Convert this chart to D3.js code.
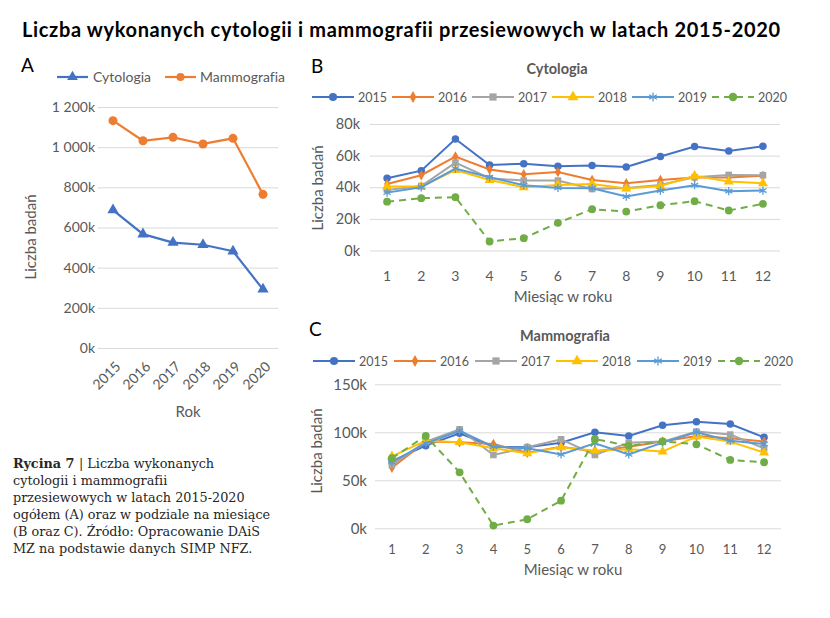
<!DOCTYPE html>
<html>
<head>
<meta charset="utf-8">
<script src="https://cdn.jsdelivr.net/npm/d3@7"></script>
<style>
  body { margin: 0; background: #fff; }
  svg { display: block; }
  text { font-family: Lato, "Open Sans", sans-serif; font-variant-ligatures: none; }
</style>
</head>
<body>
<div id="chart"></div>
<script>
// --- data ---
var years = ["2015", "2016", "2017", "2018", "2019", "2020"];
var totalCyto = [687000, 567000, 525000, 514000, 482000, 292000];
var totalMammo = [1132000, 1032000, 1049000, 1016000, 1044000, 765000];
var totalTicks = [0, 200000, 400000, 600000, 800000, 1000000, 1200000];

var months = ["1", "2", "3", "4", "5", "6", "7", "8", "9", "10", "11", "12"];

// cytologia per month (B)
var cyto2015 = [45700, 50500, 70500, 54100, 54900, 53300, 53700, 52800, 59400, 65700, 62900, 65900];
var cyto2016 = [42100, 47600, 59400, 51200, 48200, 49700, 44600, 42500, 44600, 46100, 46100, 47200];
var cyto2017 = [38300, 40800, 55600, 45700, 44200, 44200, 38900, 39600, 41500, 46300, 47800, 47600];
var cyto2018 = [40400, 40400, 50900, 44600, 40000, 41500, 42100, 39200, 40800, 47200, 43600, 42500];
var cyto2019 = [36600, 40000, 51800, 46300, 41300, 39600, 39400, 34100, 37900, 41300, 37500, 37900];
var cyto2020 = [30900, 33100, 33700, 5700, 7800, 17500, 26100, 24600, 28600, 31200, 25300, 29500];
var cytoTicks = [0, 20000, 40000, 60000, 80000];

// mammografia per month (C)
var mammo2015 = [70000, 86100, 99000, 85000, 84400, 89200, 100000, 96200, 107300, 111100, 108700, 94800];
var mammo2016 = [63000, 90300, 89600, 87800, 78800, 85000, 79900, 85000, 90300, 96200, 93800, 90300];
var mammo2017 = [66000, 90300, 103100, 76400, 84400, 92700, 76400, 89200, 90300, 100700, 97600, 83300];
var mammo2018 = [75000, 91300, 89600, 83300, 78100, 84400, 80900, 82300, 79900, 95500, 90300, 78800];
var mammo2019 = [69000, 88500, 101400, 85000, 83300, 77000, 88500, 77000, 89200, 100000, 91300, 87800];
var mammo2020 = [73000, 96200, 58300, 2800, 9400, 28800, 93000, 85800, 90600, 87500, 71200, 68800];
var mammoTicks = [0, 50000, 100000, 150000];

var seriesColors = ["#4472C4", "#ED7D31", "#A5A5A5", "#FFC000", "#5B9BD5", "#70AD47"];
var seriesSymbols = [d3.symbolCircle, d3.symbolDiamond, d3.symbolSquare, d3.symbolTriangle, d3.symbolAsterisk, d3.symbolCircle];
var seriesSizes = [44, 32, 44, 44, 48, 48];

var captionLines = [
  "| Liczba wykonanych",
  "cytologii i mammografii",
  "przesiewowych w latach 2015-2020",
  "ogółem (A) oraz w podziale na miesiące",
  "(B oraz C). Źródło: Opracowanie DAiS",
  "MZ na podstawie danych SIMP NFZ."
];

var plPL = d3.formatLocale({ decimal: ",", thousands: " ", grouping: [3], currency: ["", " zł"] });
var kFormat = function(d) { return plPL.format(",")(d / 1000) + "k"; };

var grid = "#d9d9d9";
var tickCol = "#595959";

var svg = d3.select("#chart").append("svg")
  .attr("width", 830)
  .attr("height", 618);

// main title
svg.append("text")
  .attr("x", 22)
  .attr("y", 37)
  .attr("textLength", 758)
  .style("font-size", "20px")
  .style("font-weight", "bold")
  .style("fill", "#000")
  .text("Liczba wykonanych cytologii i mammografii przesiewowych w latach 2015-2020");

// ---------------- panel A ----------------
var xA = d3.scaleBand().domain(years).range([98, 278]);
var yA = d3.scaleLinear().domain([0, 1200000]).range([348, 107]);

svg.append("text").attr("x", 21).attr("y", 72)
  .style("font-size", "19px").text("A");

var gyA = svg.append("g")
  .attr("transform", "translate(98,0)")
  .call(d3.axisLeft(yA).tickValues(totalTicks).tickSize(-180).tickPadding(3).tickFormat(kFormat));
gyA.select(".domain").remove();
gyA.selectAll("line").attr("stroke", grid);
gyA.selectAll("text").style("font-size", "14px").style("font-family", "Lato, sans-serif").attr("fill", tickCol);

var gxA = svg.append("g")
  .attr("transform", "translate(0,348)")
  .call(d3.axisBottom(xA).tickSize(0));
gxA.select(".domain").remove();
gxA.selectAll("text")
  .attr("y", 0).attr("dy", "0.35em")
  .attr("text-anchor", "end")
  .attr("transform", "translate(5,16) rotate(-45)")
  .style("font-size", "14px").style("font-family", "Lato, sans-serif").attr("fill", tickCol);

svg.append("text").attr("x", 188).attr("y", 417).attr("text-anchor", "middle")
  .style("font-size", "15px").style("fill", tickCol).text("Rok");
svg.append("text").attr("transform", "translate(36,237) rotate(-90)").attr("text-anchor", "middle")
  .style("font-size", "15px").style("fill", tickCol).text("Liczba badań");

var lineA = d3.line()
  .x(function(d, i) { return xA(years[i]) + xA.bandwidth() / 2; })
  .y(function(d) { return yA(d); });

[[totalMammo, "#ED7D31", d3.symbolCircle, 64], [totalCyto, "#4472C4", d3.symbolTriangle, 55]].forEach(function(s) {
  svg.append("path").attr("d", lineA(s[0])).attr("fill", "none").attr("stroke", s[1]).attr("stroke-width", 2.2);
  svg.selectAll(null).data(s[0]).enter().append("path")
    .attr("d", d3.symbol().type(s[2]).size(s[3]))
    .attr("transform", function(d, i) { return "translate(" + (xA(years[i]) + xA.bandwidth() / 2) + "," + yA(d) + ")"; })
    .attr("fill", s[1]);
});

// legend A
[["Cytologia", "#4472C4", d3.symbolTriangle, 57, 93], ["Mammografia", "#ED7D31", d3.symbolCircle, 165, 200]].forEach(function(l) {
  svg.append("line").attr("x1", l[3]).attr("x2", l[3] + 31).attr("y1", 77).attr("y2", 77)
    .attr("stroke", l[1]).attr("stroke-width", 2.2);
  svg.append("path").attr("d", d3.symbol().type(l[2]).size(50)).attr("fill", l[1])
    .attr("transform", "translate(" + (l[3] + 15.5) + ",77)");
  svg.append("text").attr("x", l[4]).attr("y", 82).style("font-size", "14px").style("fill", tickCol).text(l[0]);
});

// ---------------- panels B, C ----------------
function monthlyPanel(cfg) {
  var x = d3.scaleBand().domain(months).range(cfg.xRange);
  var y = d3.scaleLinear().domain(cfg.yDomain).range(cfg.yRange);
  var cx = function(i) { return x(months[i]) + x.bandwidth() / 2; };

  svg.append("text").attr("x", cfg.labelX).attr("y", cfg.labelY)
    .style("font-size", "19px").text(cfg.label);
  svg.append("text").attr("x", cfg.titleX).attr("y", cfg.titleY).attr("text-anchor", "middle")
    .style("font-size", "14.5px").style("font-weight", "bold").style("fill", tickCol).text(cfg.title);

  var gy = svg.append("g")
    .attr("transform", "translate(" + cfg.xRange[0] + ",0)")
    .call(d3.axisLeft(y).tickValues(cfg.ticks).tickSize(-(cfg.xRange[1] - cfg.xRange[0])).tickPadding(cfg.yPad).tickFormat(kFormat));
  gy.select(".domain").remove();
  gy.selectAll("line").attr("stroke", grid);
  gy.selectAll("text").style("font-size", cfg.yFont).style("font-family", "Lato, sans-serif").attr("fill", tickCol);

  var gx = svg.append("g")
    .attr("transform", "translate(0," + cfg.yRange[0] + ")")
    .call(d3.axisBottom(x).tickSize(0).tickPadding(cfg.xPad));
  gx.select(".domain").remove();
  gx.selectAll("text").style("font-size", cfg.xFont).style("font-family", "Lato, sans-serif").attr("fill", tickCol);

  svg.append("text").attr("x", cfg.xTitleX).attr("y", cfg.xTitleY).attr("text-anchor", "middle")
    .style("font-size", "15px").style("fill", tickCol).text("Miesiąc w roku");
  svg.append("text").attr("transform", "translate(" + cfg.yTitleX + "," + cfg.yTitleY + ") rotate(-90)")
    .attr("text-anchor", "middle")
    .style("font-size", "15px").style("fill", tickCol).text("Liczba badań");

  var line = d3.line().x(function(d, i) { return cx(i); }).y(function(d) { return y(d); });

  cfg.series.forEach(function(vals, k) {
    var col = seriesColors[k];
    var stroke = k === 4;
    svg.append("path").attr("d", line(vals)).attr("fill", "none")
      .attr("stroke", col).attr("stroke-width", 2)
      .attr("stroke-dasharray", k === 5 ? "7,5" : null);
    svg.selectAll(null).data(vals).enter().append("path")
      .attr("d", d3.symbol().type(seriesSymbols[k]).size(seriesSizes[k]))
      .attr("transform", function(d, i) { return "translate(" + cx(i) + "," + y(d) + ")"; })
      .attr("fill", stroke ? "none" : col)
      .attr("stroke", stroke ? col : "none")
      .attr("stroke-width", 1.3);
  });

  // legend
  years.forEach(function(yr, k) {
    var lx = cfg.legendX + k * cfg.legendStep;
    var col = seriesColors[k];
    var stroke = k === 4;
    svg.append("line").attr("x1", lx).attr("x2", lx + 42).attr("y1", cfg.legendY).attr("y2", cfg.legendY)
      .attr("stroke", col).attr("stroke-width", 2)
      .attr("stroke-dasharray", k === 5 ? "7,5" : null);
    svg.append("path").attr("d", d3.symbol().type(seriesSymbols[k]).size(seriesSizes[k] + 8))
      .attr("transform", "translate(" + (lx + 21) + "," + cfg.legendY + ")")
      .attr("fill", stroke ? "none" : col)
      .attr("stroke", stroke ? col : "none")
      .attr("stroke-width", 1.3);
    svg.append("text").attr("x", lx + 46).attr("y", cfg.legendY + 4.5)
      .style("font-size", "12.5px").style("fill", tickCol).text(yr);
  });
}

monthlyPanel({
  label: "B", labelX: 311, labelY: 73,
  title: "Cytologia", titleX: 557, titleY: 74,
  legendX: 312, legendStep: 80, legendY: 97,
  xRange: [370, 780], yDomain: [0, 80000], yRange: [250.5, 124],
  ticks: cytoTicks, yPad: 10, xPad: 21, yFont: "14.5px", xFont: "14px",
  xTitleX: 563, xTitleY: 302, yTitleX: 323, yTitleY: 188,
  series: [cyto2015, cyto2016, cyto2017, cyto2018, cyto2019, cyto2020]
});

monthlyPanel({
  label: "C", labelX: 309, labelY: 336,
  title: "Mammografia", titleX: 565, titleY: 341,
  legendX: 313, legendStep: 81, legendY: 361,
  xRange: [375, 781], yDomain: [0, 150000], yRange: [528.3, 384.3],
  ticks: mammoTicks, yPad: 8, xPad: 16, yFont: "15px", xFont: "13px",
  xTitleX: 573, xTitleY: 575, yTitleX: 322, yTitleY: 451,
  series: [mammo2015, mammo2016, mammo2017, mammo2018, mammo2019, mammo2020]
});

// ---------------- caption ----------------
var cap = svg.append("g").style("fill", "#262626");
captionLines.forEach(function(t, i) {
  var tx = cap.append("text").attr("x", 13).attr("y", 468 + i * 17)
    .style("font-family", "'DejaVu Serif', serif").style("font-size", "12.8px");
  if (i === 0) {
    tx.append("tspan").style("font-weight", "bold").text("Rycina 7 ");
  }
  tx.append("tspan").text(t);
});
</script>
</body>
</html>
